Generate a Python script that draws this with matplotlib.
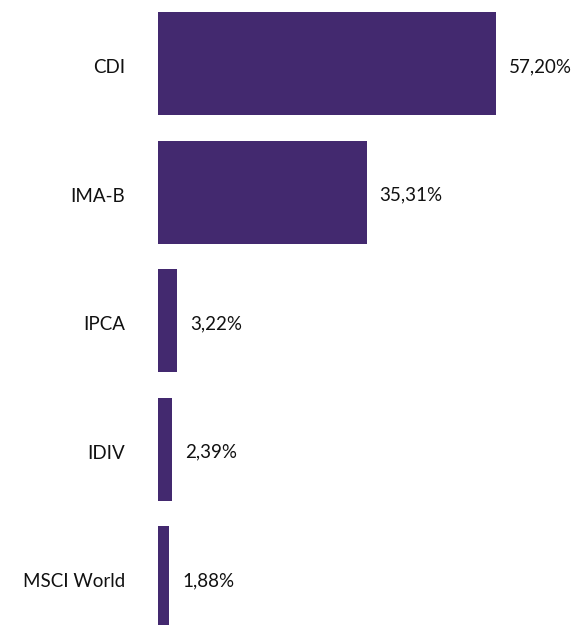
import matplotlib
matplotlib.use("Agg")
import matplotlib.pyplot as plt

categories = ["CDI", "IMA-B", "IPCA", "IDIV", "MSCI World"]
values = [57.20, 35.31, 3.22, 2.39, 1.88]
labels = ["57,20%", "35,31%", "3,22%", "2,39%", "1,88%"]

plt.rcParams['font.family'] = ['Lato', 'DejaVu Sans']

fig = plt.figure(figsize=(5.74, 6.25), dpi=100)
ax = fig.add_axes([158 / 574, 0, 416 / 574, 1])

pos = list(range(len(categories)))
ax.barh(pos, values, height=0.8, color="#43296f")
ax.set_xlim(0, 416 / 5.91)
ax.set_ylim(4.366, -0.494)
ax.set_xticks([])
ax.set_yticks([])
for s in ax.spines.values():
    s.set_visible(False)

# px -> points at 100 dpi
k = 0.72
for p, name in zip(pos, categories):
    ax.annotate(name, (0, p), xytext=(-33 * k, -4 * k), textcoords="offset points",
                va="center", ha="right", fontsize=13.5, color="#111111",
                annotation_clip=False)
for p, v, lab in zip(pos, values, labels):
    ax.annotate(lab, (v, p), xytext=(13 * k, -3 * k), textcoords="offset points",
                va="center", ha="left", fontsize=13.5, color="#111111")

fig.savefig("out.png", dpi=100)
